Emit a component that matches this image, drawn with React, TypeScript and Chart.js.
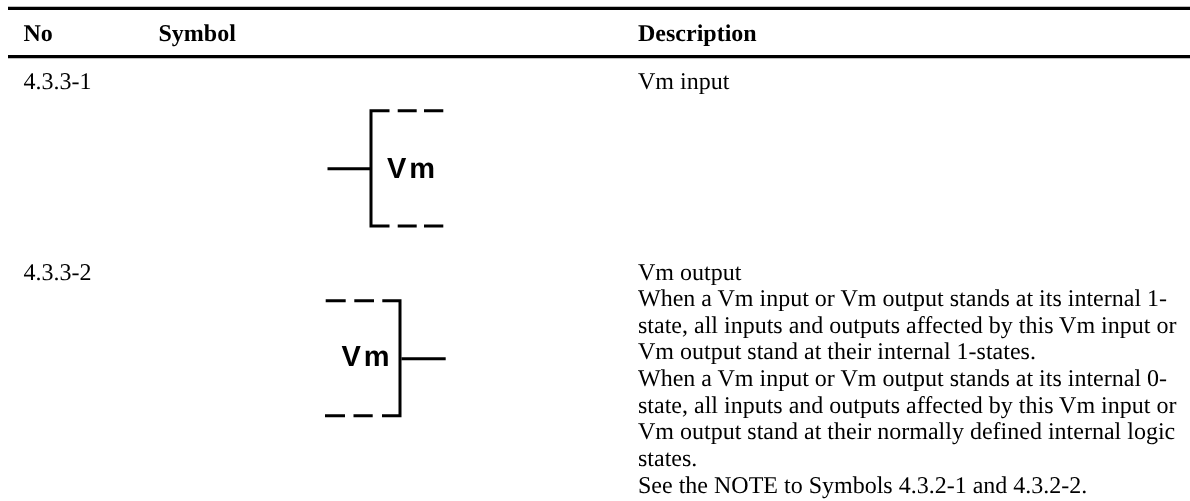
import React, { useEffect, useRef } from "react";
import { Chart, registerables } from "chart.js";

Chart.register(...registerables);

const WIDTH = 1190;
const HEIGHT = 501;

const ruleThick = [
  { x: 8, y: 8.35 },
  { x: 1190, y: 8.35 },
  { x: null, y: null },
  { x: 8, y: 56.65 },
  { x: 1190, y: 56.65 },
];

const inputSymbol = [
  { x: 327.5, y: 168.8 }, { x: 370, y: 168.8 }, { x: null, y: null },
  { x: 389.5, y: 110.8 }, { x: 371, y: 110.8 }, { x: 371, y: 226 }, { x: 389.5, y: 226 }, { x: null, y: null },
  { x: 397.7, y: 110.8 }, { x: 416.7, y: 110.8 }, { x: null, y: null },
  { x: 424, y: 110.8 }, { x: 443.3, y: 110.8 }, { x: null, y: null },
  { x: 397.7, y: 226 }, { x: 416.7, y: 226 }, { x: null, y: null },
  { x: 424, y: 226 }, { x: 443.3, y: 226 },
];

const outputSymbol = [
  { x: 401.7, y: 358.7 }, { x: 445.7, y: 358.7 }, { x: null, y: null },
  { x: 382.3, y: 300.7 }, { x: 400, y: 300.7 }, { x: 400, y: 415.7 }, { x: 382, y: 415.7 }, { x: null, y: null },
  { x: 354.3, y: 300.7 }, { x: 374, y: 300.7 }, { x: null, y: null },
  { x: 325.7, y: 300.7 }, { x: 345.7, y: 300.7 }, { x: null, y: null },
  { x: 353.5, y: 415.7 }, { x: 372.7, y: 415.7 }, { x: null, y: null },
  { x: 325, y: 415.7 }, { x: 345, y: 415.7 },
];

const headers = ["No", "Symbol", "Description"];
const headerX = [23.5, 158.5, 638];
const HEADER_Y = 41;

const rowNumbers = ["4.3.3-1", "4.3.3-2"];
const rowNumberY = [88.5, 279.5];
const NUMBER_X = 23.5;

const descriptionOne = ["Vm input"];
const descriptionTwo = [
  "Vm output",
  "When a Vm input or Vm output stands at its internal 1-",
  "state, all inputs and outputs affected by this Vm input or",
  "Vm output stand at their internal 1-states.",
  "When a Vm input or Vm output stands at its internal 0-",
  "state, all inputs and outputs affected by this Vm input or",
  "Vm output stand at their normally defined internal logic",
  "states.",
  "See the NOTE to Symbols 4.3.2-1 and 4.3.2-2.",
];
const DESC_X = 638;
const descriptionTwoY = [279.5, 306, 332.7, 359.3, 386, 412.7, 439.3, 466, 492.7];

const symbolLabels = [
  { text: "Vm", x: 387, y: 177.5 },
  { text: "Vm", x: 341.5, y: 365.5 },
];

const textPlugin = {
  id: "tableText",
  afterDatasetsDraw(chart: any) {
    const { ctx, scales } = chart;
    const px = (v: number) => scales.x.getPixelForValue(v);
    const py = (v: number) => scales.y.getPixelForValue(v);
    ctx.save();
    ctx.fillStyle = "#000";
    ctx.textBaseline = "alphabetic";
    ctx.textAlign = "left";
    ctx.textRendering = "geometricPrecision";
    ctx.font = 'bold 24px "Liberation Serif"';
    headers.forEach((h, i) => ctx.fillText(h, px(headerX[i]), py(HEADER_Y)));
    ctx.font = '24px "Liberation Serif"';
    rowNumbers.forEach((t, i) => ctx.fillText(t, px(NUMBER_X), py(rowNumberY[i])));
    descriptionOne.forEach((t) => ctx.fillText(t, px(DESC_X), py(rowNumberY[0])));
    descriptionTwo.forEach((t, i) => ctx.fillText(t, px(DESC_X), py(descriptionTwoY[i])));
    ctx.font = 'bold 29px "Liberation Sans"';
    ctx.letterSpacing = "3px";
    symbolLabels.forEach((l) => ctx.fillText(l.text, px(l.x), py(l.y)));
    ctx.restore();
  },
};

const line = (label: string, data: any[], borderWidth: number) => ({
  label,
  data,
  borderColor: "#000",
  backgroundColor: "#000",
  borderWidth,
  pointRadius: 0,
  showLine: true,
  spanGaps: false,
  tension: 0,
  borderCapStyle: "butt" as const,
  borderJoinStyle: "miter" as const,
});

export default function App() {
  const ref = useRef<HTMLCanvasElement>(null);
  useEffect(() => {
    const chart = new Chart(ref.current!, {
      type: "scatter",
      data: {
        datasets: [
          line("Table rules", ruleThick, 3.3),
          line("Vm input symbol", inputSymbol, 3),
          line("Vm output symbol", outputSymbol, 3),
        ],
      },
      options: {
        responsive: false,
        animation: false,
        layout: { padding: 0 },
        plugins: { legend: { display: false }, tooltip: { enabled: false }, title: { display: false } },
        scales: {
          x: { type: "linear", min: 0, max: WIDTH, display: false },
          y: { type: "linear", min: 0, max: HEIGHT, reverse: true, display: false },
        },
      },
      plugins: [textPlugin],
    });
    return () => chart.destroy();
  }, []);
  return (
    <canvas
      ref={ref}
      width={WIDTH}
      height={HEIGHT}
      style={{ position: "absolute", left: 0, top: 0, display: "block", background: "#fff" }}
    />
  );
}
